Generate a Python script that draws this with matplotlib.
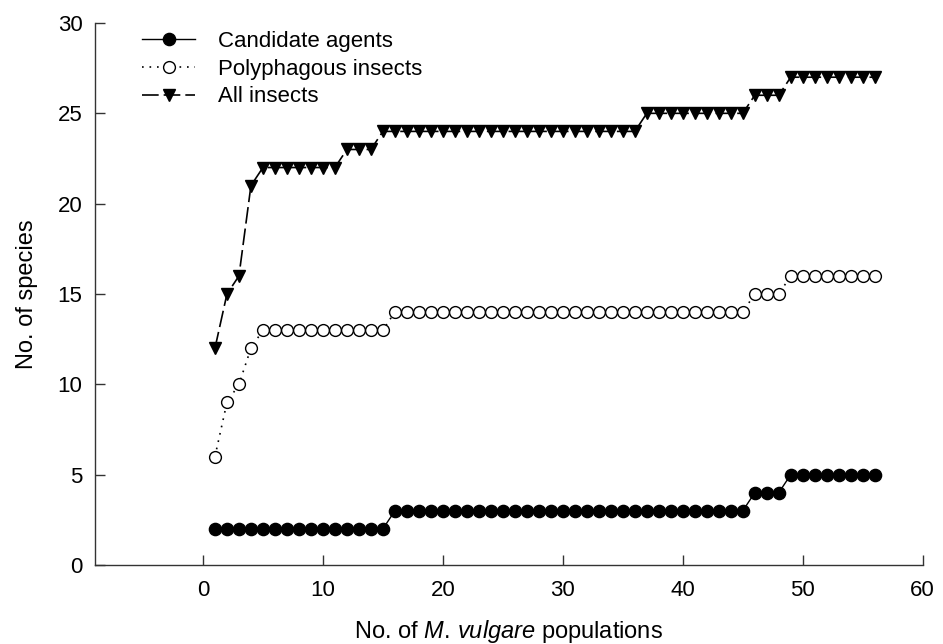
import matplotlib
matplotlib.use("Agg")
import matplotlib.pyplot as plt

plt.rcParams['font.family'] = ['Liberation Sans', 'DejaVu Sans']
plt.rcParams['mathtext.fontset'] = 'custom'
plt.rcParams['mathtext.rm'] = 'Liberation Sans'
plt.rcParams['mathtext.it'] = 'Liberation Sans:italic'

populations = list(range(1, 57))
candidate_agents = [2] * 15 + [3] * 30 + [4] * 3 + [5] * 8
polyphagous_insects = [6, 9, 10, 12] + [13] * 11 + [14] * 30 + [15] * 3 + [16] * 8
all_insects = [12, 15, 16, 21] + [22] * 7 + [23] * 3 + [24] * 22 + [25] * 9 + [26] * 3 + [27] * 8

x_ticks = [0, 10, 20, 30, 40, 50, 60]
y_ticks = [0, 5, 10, 15, 20, 25, 30]

fig = plt.figure(figsize=(9.43, 6.44), dpi=100)
ax = fig.add_axes([95 / 943, 1 - 565 / 644, (922.7 - 95) / 943, (565 - 23) / 644])

ax.plot(populations, candidate_agents, color='black', lw=1.0, marker='o',
        markersize=8.8, markerfacecolor='black', markeredgecolor='black',
        label='Candidate agents', zorder=3)
ax.plot(populations, polyphagous_insects, color='black', lw=1.2, linestyle=(0, (1, 3.5)),
        marker='o', markersize=8.5, markerfacecolor='white', markeredgecolor='black',
        markeredgewidth=1.0, label='Polyphagous insects', zorder=3)
ax.plot(populations, all_insects, color='black', lw=1.2, linestyle=(0, (10, 3)),
        marker='v', markersize=9.3, markerfacecolor='black', markeredgecolor='black',
        label='All insects', zorder=3)

ax.set_xlim(-9, 60)
ax.set_ylim(0, 30)
ax.set_xticks(x_ticks)
ax.set_yticks(y_ticks)

for s in ['top', 'right']:
    ax.spines[s].set_visible(False)
for s in ['left', 'bottom']:
    ax.spines[s].set_linewidth(1.0)
    ax.spines[s].set_color('#333333')

ax.tick_params(axis='both', direction='in', length=7.5, width=1.0, color='#333333',
               labelsize=16)
ax.tick_params(axis='x', pad=11)
ax.tick_params(axis='y', pad=9)

ax.set_xlabel(r'No. of $\mathit{M.\,vulgare}$ populations', fontsize=17, labelpad=12)
ax.set_ylabel('No. of species', fontsize=17, labelpad=14)

leg = ax.legend(loc='upper left', bbox_to_anchor=(0.0568, 0.985), frameon=False,
                fontsize=16, borderpad=0, borderaxespad=0, handlelength=2.4,
                handletextpad=1.0, labelspacing=0.3)

fig.savefig('out.png', dpi=100)
